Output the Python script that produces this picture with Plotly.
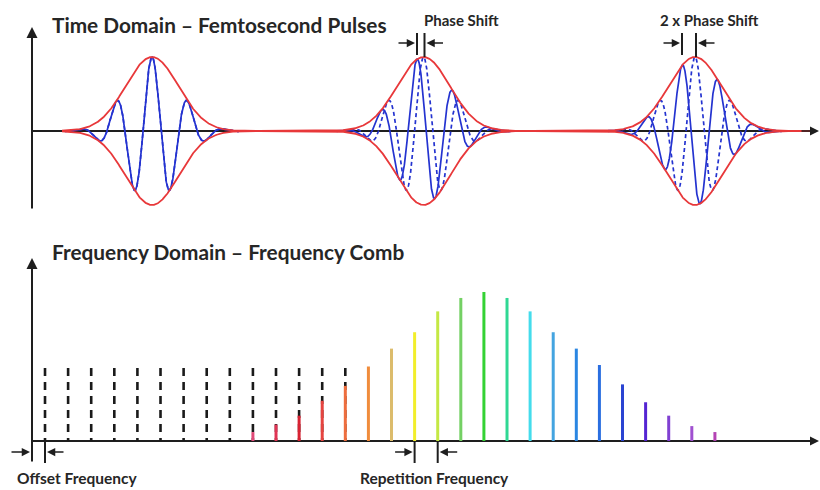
import numpy as np
import plotly.graph_objects as go

W, H = 820, 490

# ---------------- data ----------------
# Time domain (time in units of the pulse repetition period)
PULSE_CENTERS = [1.0, 2.0, 3.0]
CEO_PHASE_DEG = [0, 65, 130]          # carrier-envelope phase of each pulse
ENV_SIGMA = 0.0976                    # gaussian envelope width
CARRIER_PERIOD = 0.1326               # optical carrier period

# Frequency domain (frequency in units of the repetition frequency)
COMB_OFFSET = 0.563
DASHED_MODES = list(range(0, 14))
DASHED_HEIGHT = 49
COLOR_MODES = list(range(9, 30))
COLOR_HEIGHTS = [6, 11, 17, 27, 37, 50, 62, 73, 87, 96, 100,
                 96, 87, 73, 62, 51, 38, 26, 17, 10, 6]
COLOR_LIST = ["#e04a78", "#e03454", "#d82232", "#e64440", "#ee6e3e", "#f08c3c",
              "#dcbc6c", "#f2ee2a", "#c4e844", "#74d064", "#34d234", "#30d894",
              "#44dcec", "#44a4e0", "#2a86e2", "#2a6ee0", "#2a44d2", "#5424d2",
              "#8040d2", "#a050d0", "#b444b4"]

TITLE_TOP = "Time Domain – Femtosecond Pulses"
TITLE_BOTTOM = "Frequency Domain – Frequency Comb"
LABEL_PHASE1 = "Phase Shift"
LABEL_PHASE2 = "2 x Phase Shift"
LABEL_OFFSET = "Offset Frequency"
LABEL_REP = "Repetition Frequency"

# ---------------- axis mappings (pixel layout of the picture) ----------------
def t_of(px):
    return 1 + (px - 152) / 271.5

def a_of(py):
    return (131 - py) / 74.0

def f_of(px):
    return (px - 32) / 23.1

def i_of(py):
    return (441 - py) / 1.49

def PX(px):
    return px / W

def PY(py):
    return 1 - py / H

TOP_FRAC = 230 / H

fig = go.Figure()

# ---------------- top: pulses ----------------
BLUE = "#2433d0"
RED = "#e8383a"
for tc, ph in zip(PULSE_CENTERS, CEO_PHASE_DEG):
    t = np.linspace(tc - 0.32, tc + 0.32, 1500)
    env = np.exp(-((t - tc) ** 2) / (2 * ENV_SIGMA ** 2))
    dashed = env * np.cos(2 * np.pi * (t - tc) / CARRIER_PERIOD)
    solid = env * np.cos(2 * np.pi * (t - tc) / CARRIER_PERIOD + np.radians(ph))
    fig.add_trace(go.Scatter(x=t, y=solid, mode="lines", xaxis="x", yaxis="y",
                             line=dict(color=BLUE, width=1.7), hoverinfo="skip"))
    fig.add_trace(go.Scatter(x=t, y=dashed, mode="lines", xaxis="x", yaxis="y",
                             line=dict(color=BLUE, width=1.7, dash="4px,3px"),
                             hoverinfo="skip"))

tt = np.linspace(t_of(62), t_of(812), 4000)
env_all = sum(np.exp(-((tt - tc) ** 2) / (2 * ENV_SIGMA ** 2)) for tc in PULSE_CENTERS)
for s in (1, -1):
    fig.add_trace(go.Scatter(x=tt, y=s * env_all, mode="lines", xaxis="x", yaxis="y",
                             line=dict(color=RED, width=1.8), hoverinfo="skip"))

# ---------------- bottom: comb ----------------
dx, dy = [], []
for n in DASHED_MODES:
    f = COMB_OFFSET + n
    dx += [f, f, None]
    dy += [DASHED_HEIGHT, 0, None]
fig.add_trace(go.Scatter(x=dx, y=dy, mode="lines", xaxis="x2", yaxis="y2",
                         line=dict(color="#1a1a1a", width=2.6, dash="8px,6px"),
                         hoverinfo="skip"))
for n, h, c in zip(COLOR_MODES, COLOR_HEIGHTS, COLOR_LIST):
    f = COMB_OFFSET + n
    fig.add_trace(go.Scatter(x=[f, f], y=[0, h], mode="lines", xaxis="x2", yaxis="y2",
                             line=dict(color=c, width=3), hoverinfo="skip"))

# ---------------- decorations ----------------
AX = "#1e1e1e"
shapes = []
annotations = []

def vline(px, y0, y1, w=2):
    shapes.append(dict(type="line", xref="paper", yref="paper", x0=PX(px), x1=PX(px),
                       y0=PY(y0), y1=PY(y1), line=dict(color=AX, width=w)))

def hline(py, x0, x1, w=2, layer="below"):
    shapes.append(dict(type="line", xref="paper", yref="paper", x0=PX(x0), x1=PX(x1),
                       y0=PY(py), y1=PY(py), line=dict(color=AX, width=w), layer=layer))

def arrow(hx, hy, tx, ty, w=2, size=1.0, head=2):
    annotations.append(dict(x=PX(hx), y=PY(hy), xref="paper", yref="paper",
                            ax=tx - hx, ay=ty - hy, axref="pixel", ayref="pixel",
                            text="", showarrow=True, arrowhead=head, arrowsize=size,
                            arrowwidth=w, arrowcolor=AX, standoff=0, startstandoff=0))

def label(txt, px, py, size, anchor="center"):
    annotations.append(dict(x=PX(px), y=PY(py), xref="paper", yref="paper",
                            text="<b>" + txt + "</b>", showarrow=False,
                            xanchor=anchor, yanchor="middle",
                            font=dict(family="Lato", size=size, color="#262626")))

# top axes
hline(131, 32, 812)
arrow(819, 131, 800, 131, w=1.5, size=1.2)
arrow(32, 27, 32, 210, w=2, size=1.1)
# phase shift markers
peak2 = 152 + 271.5 - CEO_PHASE_DEG[1] / 360 * 36
peak3 = 152 + 2 * 271.5 - CEO_PHASE_DEG[2] / 360 * 36
c2, c3 = 152 + 271.5, 152 + 2 * 271.5
for a, b in ((peak2, c2), (peak3, c3)):
    vline(a, 33, 55)
    vline(b + 1, 33, 57)
    arrow(a - 2, 43, a - 20, 43, w=1.5, size=1.1)
    arrow(b + 3, 43, b + 21, 43, w=1.5, size=1.1)
label(TITLE_TOP, 50, 25, 20.8, "left")
label(LABEL_PHASE1, 461, 20, 15)
label(LABEL_PHASE2, 709, 20, 15)

# bottom axes
hline(441, 32, 812)
arrow(819, 441, 800, 441, w=1.5, size=1.2)
arrow(32, 258, 32, 463, w=2, size=1.1)
off_px = 32 + COMB_OFFSET * 23.1
vline(off_px, 440, 463)
arrow(30, 452, 10, 452, w=1.5, size=1.1)
arrow(off_px + 2, 452, off_px + 20, 452, w=1.5, size=1.1)
r1 = 32 + (COMB_OFFSET + 16) * 23.1
r2 = 32 + (COMB_OFFSET + 17) * 23.1
vline(r1, 441, 463)
vline(r2, 441, 463)
arrow(r1 - 2, 452, r1 - 21, 452, w=1.5, size=1.1)
arrow(r2 + 2, 452, r2 + 21, 452, w=1.5, size=1.1)
label(TITLE_BOTTOM, 50, 251, 20.8, "left")
label(LABEL_OFFSET, 77, 478, 15.5)
label(LABEL_REP, 434, 478, 15.5)

hidden = dict(visible=False, showgrid=False, zeroline=False, fixedrange=True)
fig.update_layout(
    width=W, height=H,
    margin=dict(l=0, r=0, t=0, b=0),
    paper_bgcolor="white", plot_bgcolor="white",
    showlegend=False,
    xaxis=dict(domain=[0, 1], range=[t_of(0), t_of(W)], anchor="y", **hidden),
    yaxis=dict(domain=[1 - TOP_FRAC, 1], range=[a_of(230), a_of(0)], anchor="x", **hidden),
    xaxis2=dict(domain=[0, 1], range=[f_of(0), f_of(W)], anchor="y2", **hidden),
    yaxis2=dict(domain=[0, 1 - TOP_FRAC], range=[i_of(490), i_of(230)], anchor="x2", **hidden),
    shapes=shapes,
    annotations=annotations,
)

fig.write_html("out.html", config={"displayModeBar": False},
               post_script="document.body.style.margin='0px';document.body.style.padding='0px';")
